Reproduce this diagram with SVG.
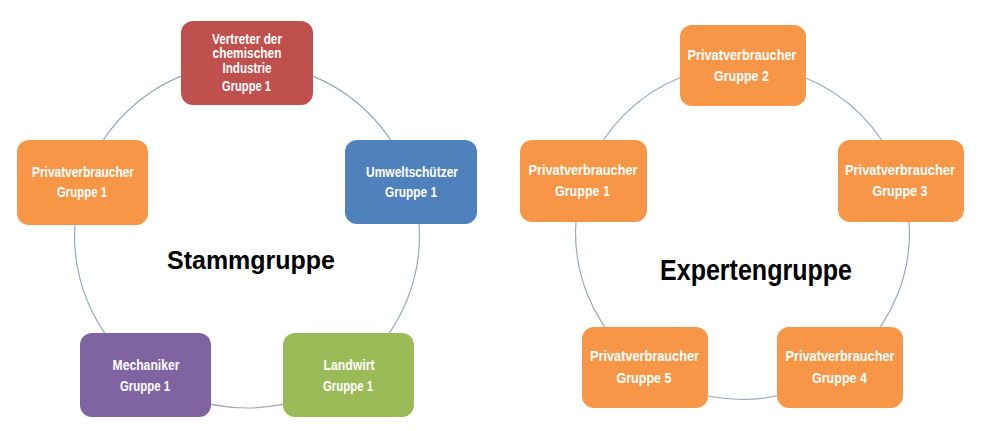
<svg xmlns="http://www.w3.org/2000/svg" width="986" height="431" viewBox="0 0 986 431">
<style>
.ring{fill:none;stroke:#94aac6;stroke-width:1.2}
.box{rx:12;ry:12}
.red{fill:#c0504d}.orange{fill:#f79646}.blue{fill:#4f81bd}.purple{fill:#8064a2}.green{fill:#9bbb59}
.t{font-family:"Liberation Sans",Arial,sans-serif;font-weight:bold;fill:#ffffff;text-anchor:middle}
.s{font-size:14px}
.l{font-size:15px}
.title{font-family:"Liberation Sans",Arial,sans-serif;font-weight:bold;fill:#000000;text-anchor:middle}
</style>
<rect width="986" height="431" fill="#ffffff"/>
<g id="connectors">
<circle class="ring" cx="247" cy="235.5" r="172.5"/>
<circle class="ring" cx="742.5" cy="232.5" r="167"/>
</g>
<g id="stammgruppe-label"><text class="title" x="251" y="269" font-size="26" textLength="168" lengthAdjust="spacingAndGlyphs">Stammgruppe</text></g>
<g id="expertengruppe-label"><text class="title" x="756" y="279.5" font-size="30" textLength="192" lengthAdjust="spacingAndGlyphs">Expertengruppe</text></g>
<g id="chemie">
<rect class="box red" x="181" y="21" width="132" height="84"/>
<text class="t s" x="247" y="43.5" textLength="70" lengthAdjust="spacingAndGlyphs">Vertreter der</text>
<text class="t s" x="247" y="58" textLength="69" lengthAdjust="spacingAndGlyphs">chemischen</text>
<text class="t s" x="247" y="72.5" textLength="49" lengthAdjust="spacingAndGlyphs">Industrie</text>
<text class="t s" x="246.5" y="91" textLength="49" lengthAdjust="spacingAndGlyphs">Gruppe 1</text>
</g>
<g id="privat-stamm">
<rect class="box orange" x="17" y="140" width="131" height="85"/>
<text class="t s" x="83" y="177" textLength="102" lengthAdjust="spacingAndGlyphs">Privatverbraucher</text>
<text class="t s" x="82" y="197" textLength="50" lengthAdjust="spacingAndGlyphs">Gruppe 1</text>
</g>
<g id="umwelt">
<rect class="box blue" x="345" y="140" width="132" height="84"/>
<text class="t s" x="412" y="177" textLength="92" lengthAdjust="spacingAndGlyphs">Umweltschützer</text>
<text class="t s" x="411" y="197" textLength="52" lengthAdjust="spacingAndGlyphs">Gruppe 1</text>
</g>
<g id="mechaniker">
<rect class="box purple" x="80" y="333" width="131" height="84"/>
<text class="t s" x="146" y="370" textLength="67" lengthAdjust="spacingAndGlyphs">Mechaniker</text>
<text class="t s" x="145" y="391" textLength="50" lengthAdjust="spacingAndGlyphs">Gruppe 1</text>
</g>
<g id="landwirt">
<rect class="box green" x="283" y="333" width="131" height="84"/>
<text class="t s" x="349" y="370" textLength="51" lengthAdjust="spacingAndGlyphs">Landwirt</text>
<text class="t s" x="348" y="391" textLength="50" lengthAdjust="spacingAndGlyphs">Gruppe 1</text>
</g>
<g id="exp-g2">
<rect class="box orange" x="680" y="25" width="126" height="81"/>
<text class="t l" x="742" y="59.5" textLength="109" lengthAdjust="spacingAndGlyphs">Privatverbraucher</text>
<text class="t l" x="741.5" y="81" textLength="55" lengthAdjust="spacingAndGlyphs">Gruppe 2</text>
</g>
<g id="exp-g1">
<rect class="box orange" x="520" y="140" width="127" height="82"/>
<text class="t l" x="583" y="174.5" textLength="109" lengthAdjust="spacingAndGlyphs">Privatverbraucher</text>
<text class="t l" x="582.5" y="195.5" textLength="55" lengthAdjust="spacingAndGlyphs">Gruppe 1</text>
</g>
<g id="exp-g3">
<rect class="box orange" x="838" y="140" width="126" height="82"/>
<text class="t l" x="900" y="174.5" textLength="110" lengthAdjust="spacingAndGlyphs">Privatverbraucher</text>
<text class="t l" x="900" y="195.5" textLength="55" lengthAdjust="spacingAndGlyphs">Gruppe 3</text>
</g>
<g id="exp-g5">
<rect class="box orange" x="582" y="327" width="126" height="81"/>
<text class="t l" x="644.5" y="361" textLength="109" lengthAdjust="spacingAndGlyphs">Privatverbraucher</text>
<text class="t l" x="644" y="383" textLength="55" lengthAdjust="spacingAndGlyphs">Gruppe 5</text>
</g>
<g id="exp-g4">
<rect class="box orange" x="777" y="327" width="126" height="81"/>
<text class="t l" x="840" y="361" textLength="109" lengthAdjust="spacingAndGlyphs">Privatverbraucher</text>
<text class="t l" x="839.5" y="383" textLength="55" lengthAdjust="spacingAndGlyphs">Gruppe 4</text>
</g>
</svg>
